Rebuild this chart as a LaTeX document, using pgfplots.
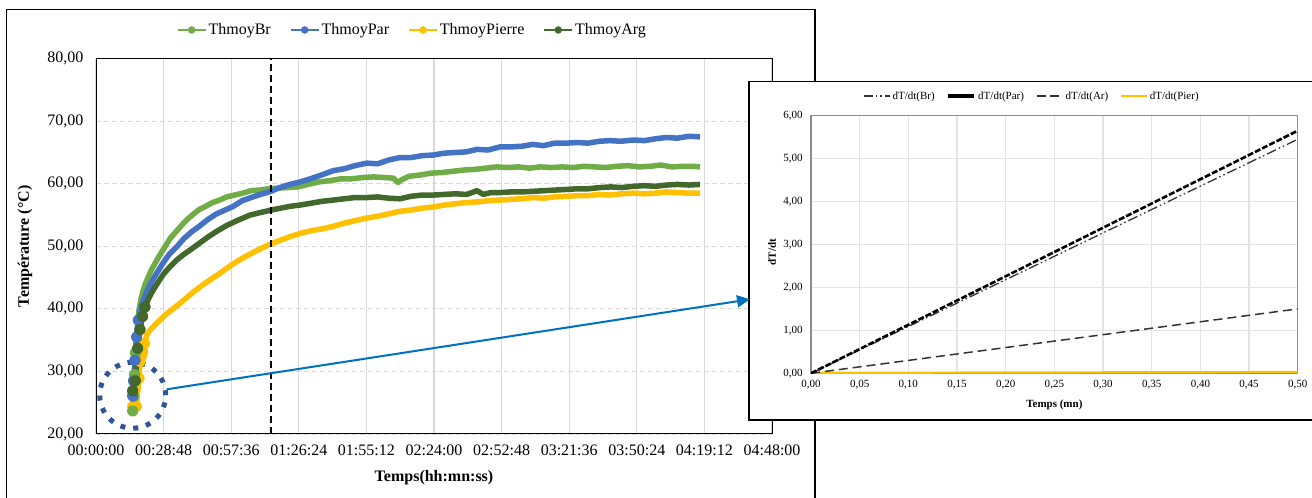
\documentclass[border=0pt]{standalone}
\usepackage{pgfplots}
\pgfplotsset{compat=1.18}
\usepackage{pgfplotstable}
\usepackage{fontspec}
\setmainfont{Liberation Serif}
\usetikzlibrary{arrows.meta}

\definecolor{cBr}{HTML}{70AD47}
\definecolor{cPar}{HTML}{4472C4}
\definecolor{cPierre}{HTML}{FFC000}
\definecolor{cArg}{HTML}{43682B}
\definecolor{gridc}{HTML}{D9D9D9}
\definecolor{gridi}{HTML}{E4E4E4}
\definecolor{axisg}{HTML}{8C8C8C}
\definecolor{arrowblue}{HTML}{0070C0}
\definecolor{circblue}{HTML}{2F5597}

% Mean temperatures, time in seconds
\pgfplotstableread{
t T
938 23.7
960 26.0
985 29.5
1010 33.0
1040 35.8
1070 38.0
1100 39.8
1140 41.3
1190 42.6
1250 43.8
1330 45.0
1420 46.3
1520 47.4
1640 48.7
1760 49.9
1900 51.3
2040 52.3
2180 53.3
2330 54.3
2480 55.1
2640 55.9
2800 56.4
2980 57.0
3160 57.4
3340 57.9
3540 58.2
3750 58.5
3960 58.9
4180 59.0
4400 59.2
4650 59.3
4900 59.4
5160 59.5
5420 59.9
5700 60.3
5980 60.5
6260 60.8
6540 60.8
6820 61.0
7100 61.1
7380 61.0
7600 60.9
7720 60.2
7800 60.6
8000 61.2
8280 61.4
8560 61.7
8840 61.8
9120 62.0
9400 62.2
9680 62.3
9960 62.5
10240 62.7
10520 62.6
10800 62.7
11080 62.5
11360 62.7
11640 62.6
11920 62.7
12200 62.6
12480 62.8
12760 62.7
13040 62.6
13320 62.8
13600 62.9
13880 62.7
14160 62.8
14440 63.0
14720 62.7
15000 62.8
15300 62.8
15440 62.7
}\dataBr

\pgfplotstableread{
t T
938 26.1
960 28.5
997 31.8
1040 35.5
1081 38.2
1140 40.0
1209 41.4
1300 42.8
1420 44.3
1560 45.8
1720 47.4
1880 48.8
2060 49.9
2240 51.2
2440 52.3
2658 53.3
2860 54.3
3080 55.2
3300 55.8
3510 56.4
3740 57.3
3960 57.8
4200 58.3
4473 58.8
4700 59.4
4960 59.9
5215 60.3
5480 60.8
5760 61.4
6066 62.1
6340 62.4
6620 62.9
6919 63.3
7200 63.2
7480 63.8
7771 64.2
8050 64.2
8340 64.5
8622 64.6
8900 64.9
9180 65.0
9460 65.1
9740 65.5
10020 65.4
10327 65.9
10600 65.9
10880 66.0
11160 66.3
11440 66.1
11720 66.5
12032 66.5
12300 66.6
12580 66.5
12860 66.8
13140 66.9
13420 66.8
13736 67.0
14020 66.9
14300 67.2
14580 67.4
14860 67.3
15160 67.6
15440 67.5
}\dataPar

\pgfplotstableread{
t T
940 24.4
1030 24.4
1099 28.9
1125 31.6
1160 32.5
1193 33.1
1240 34.5
1295 35.8
1380 36.6
1500 37.4
1636 38.2
1800 39.2
1970 40.0
2147 40.9
2320 41.8
2490 42.7
2658 43.5
2880 44.5
3100 45.4
3300 46.3
3510 47.2
3740 48.1
3980 48.9
4230 49.7
4473 50.4
4720 51.0
4980 51.6
5240 52.1
5500 52.5
5780 52.8
6066 53.2
6340 53.7
6620 54.1
6900 54.5
7190 54.8
7480 55.2
7771 55.6
8050 55.8
8340 56.1
8622 56.3
8900 56.6
9180 56.8
9460 57.0
9740 57.1
10040 57.3
10327 57.4
10600 57.5
10880 57.6
11160 57.8
11440 57.7
11720 57.9
12032 58.0
12300 58.1
12580 58.1
12860 58.3
13140 58.2
13420 58.4
13736 58.5
14020 58.4
14300 58.5
14580 58.7
14860 58.6
15160 58.5
15440 58.5
}\dataPierre

\pgfplotstableread{
t T
938 26.9
1005 28.5
1065 33.7
1125 36.7
1193 38.8
1252 40.3
1340 41.6
1450 42.9
1580 44.2
1730 45.6
1900 46.8
2080 47.9
2240 48.7
2403 49.4
2600 50.3
2840 51.4
3085 52.4
3330 53.3
3600 54.1
3937 55.0
4200 55.4
4473 55.8
4720 56.1
4960 56.4
5215 56.6
5500 56.9
5780 57.2
6066 57.4
6340 57.6
6620 57.8
6919 57.8
7200 57.9
7480 57.7
7771 57.6
8050 58.0
8340 58.2
8622 58.2
8900 58.3
9180 58.4
9475 58.3
9740 58.9
9900 58.3
10100 58.6
10327 58.6
10600 58.7
10880 58.7
11180 58.8
11460 58.9
11740 59.0
12032 59.1
12300 59.2
12580 59.2
12884 59.4
13160 59.5
13440 59.4
13736 59.6
14020 59.7
14300 59.6
14588 59.8
14860 59.9
15160 59.8
15440 59.9
}\dataArg

\begin{document}
\begin{tikzpicture}[x=1bp,y=1bp]
\useasboundingbox (0,0) rectangle (1312,498);
\fill[white] (0,0) rectangle (1312,498);
% chart frame of the temperature plot
\draw[line width=1.2bp] (6.5,-10) rectangle (815,488.5);

\begin{axis}[
  at={(96bp,64bp)}, anchor=south west, scale only axis,
  width=676bp, height=375.3bp,
  xmin=0, xmax=17280, ymin=20, ymax=80,
  clip=false,
  scaled x ticks=false,
  xtick={0,1728,3456,5184,6912,8640,10368,12096,13824,15552,17280},
  xticklabels={00:00:00,00:28:48,00:57:36,01:26:24,01:55:12,02:24:00,02:52:48,03:21:36,03:50:24,04:19:12,04:48:00},
  ytick={20,30,40,50,60,70,80},
  yticklabels={{20,00},{30,00},{40,00},{50,00},{60,00},{70,00},{80,00}},
  major tick length=0,
  xmajorgrids, ymajorgrids,
  x grid style={gridc, line width=1.2bp},
  y grid style={gridc, line width=1.2bp, dash pattern=on 5bp off 3bp},
  axis line style={black, line width=1bp},
  tick label style={font=\fontsize{16bp}{19bp}\selectfont},
  xticklabel style={yshift=-7bp},
  yticklabel style={xshift=-9bp},
  xlabel={\textbf{Temps(hh:mn:ss)}},
  ylabel={\textbf{Température (°C)}},
  label style={font=\fontsize{16bp}{19bp}\selectfont},
  xlabel style={at={(axis description cs:0.5,-0.117)}, anchor=center},
  ylabel style={at={(axis description cs:-0.105,0.5)}, anchor=center},
  legend columns=4,
  legend style={draw=none, fill=none, at={(0.468,1)}, anchor=center, yshift=28.7bp,
    font=\fontsize{16bp}{19bp}\selectfont,
    /tikz/every even column/.append style={column sep=17bp}},
  legend image code/.code={\draw[mark repeat=2,mark phase=2] plot coordinates {(0bp,0bp) (14bp,0bp) (28bp,0bp)};},
]
\addlegendimage{cBr, line width=1.8bp, mark=*, mark size=2.8bp}
\addlegendentry{ThmoyBr}
\addlegendimage{cPar, line width=1.8bp, mark=*, mark size=2.8bp}
\addlegendentry{ThmoyPar}
\addlegendimage{cPierre, line width=1.8bp, mark=*, mark size=2.8bp}
\addlegendentry{ThmoyPierre}
\addlegendimage{cArg, line width=1.8bp, mark=*, mark size=2.8bp}
\addlegendentry{ThmoyArg}

\addplot[cPierre, line width=5.5bp, line join=round, mark=*, mark size=3bp, mark indices={1,2,3,4,5,6,7}, forget plot] table[x=t,y=T] {\dataPierre};
\addplot[cBr, line width=5.5bp, line join=round, mark=*, mark size=3bp, mark indices={1,2,3,4}, forget plot] table[x=t,y=T] {\dataBr};
\addplot[cPar, line width=5.5bp, line join=round, mark=*, mark size=3bp, mark indices={1,2,3,4,5}, forget plot] table[x=t,y=T] {\dataPar};
\addplot[cArg, line width=5.5bp, line join=round, mark=*, mark size=3bp, mark indices={1,2,3,4,5,6}, forget plot] table[x=t,y=T] {\dataArg};

% end of the transient period
\addplot[black, line width=1.8bp, dash pattern=on 7bp off 4bp, forget plot] coordinates {(4473,20) (4473,80)};

% highlighted start region
\draw[circblue, line width=5bp, dash pattern=on 5bp off 8bp] (axis cs:938,26.2) circle[radius=33bp];
\end{axis}

% zoom frame
\draw[line width=1.2bp, fill=white] (749,78) rectangle (1330,416.5);

\begin{axis}[
  at={(811bp,124.7bp)}, anchor=south west, scale only axis,
  width=486.7bp, height=257.6bp,
  xmin=0, xmax=0.5, ymin=0, ymax=6,
  xtick={0,0.05,0.1,0.15,0.2,0.25,0.3,0.35,0.4,0.45,0.5},
  xticklabels={{0,00},{0,05},{0,10},{0,15},{0,20},{0,25},{0,30},{0,35},{0,40},{0,45},{0,50}},
  ytick={0,1,2,3,4,5,6},
  yticklabels={{0,00},{1,00},{2,00},{3,00},{4,00},{5,00},{6,00}},
  major tick length=0,
  xmajorgrids, ymajorgrids,
  grid style={gridi, line width=1.2bp},
  axis line style={axisg, line width=1.5bp},
  tick label style={font=\fontsize{11bp}{13bp}\selectfont},
  xticklabel style={yshift=-3bp},
  yticklabel style={xshift=-5bp},
  xlabel={\textbf{Temps (mn)}},
  ylabel={\textbf{dT/dt}},
  label style={font=\fontsize{11bp}{13bp}\selectfont},
  xlabel style={at={(axis description cs:0.5,-0.124)}, anchor=center},
  ylabel style={at={(axis description cs:-0.08,0.47)}, anchor=center},
  legend columns=4,
  legend style={draw=none, fill=none, at={(0.454,1)}, anchor=center, yshift=19.7bp,
    font=\fontsize{11bp}{13bp}\selectfont,
    /tikz/every even column/.append style={column sep=10bp}},
  legend image code/.code={\draw plot coordinates {(0bp,0bp) (26bp,0bp)};},
]
\addlegendimage{black!80, line width=1.3bp, dash pattern=on 9bp off 3bp on 1.5bp off 3bp on 1.5bp off 3bp}
\addlegendentry{dT/dt(Br)}
\addlegendimage{black, line width=3.5bp}
\addlegendentry{dT/dt(Par)}
\addlegendimage{black!80, line width=1.5bp, dash pattern=on 9bp off 4bp}
\addlegendentry{dT/dt(Ar)}
\addlegendimage{cPierre, line width=1.5bp}
\addlegendentry{dT/dt(Pier)}

\addplot[cPierre, line width=2.2bp, forget plot] coordinates {(0,0.01) (0.5,0.03)};
\addplot[black!80, line width=1.5bp, dash pattern=on 9bp off 5bp, forget plot] coordinates {(0,0) (0.5,1.5)};
\addplot[black!80, line width=1.3bp, dash pattern=on 10bp off 3bp on 1.5bp off 3bp on 1.5bp off 3bp, forget plot] coordinates {(0,0) (0.5,5.45)};
\addplot[black, line width=2.6bp, dash pattern=on 6bp off 2bp, forget plot] coordinates {(0,0) (0.5,5.65)};
\end{axis}

% link from the start region to the zoom
\draw[arrowblue, line width=2bp, -{Triangle[length=13bp,width=12bp]}] (166.7,108.7) -- (750,198.7);
\end{tikzpicture}
\end{document}
